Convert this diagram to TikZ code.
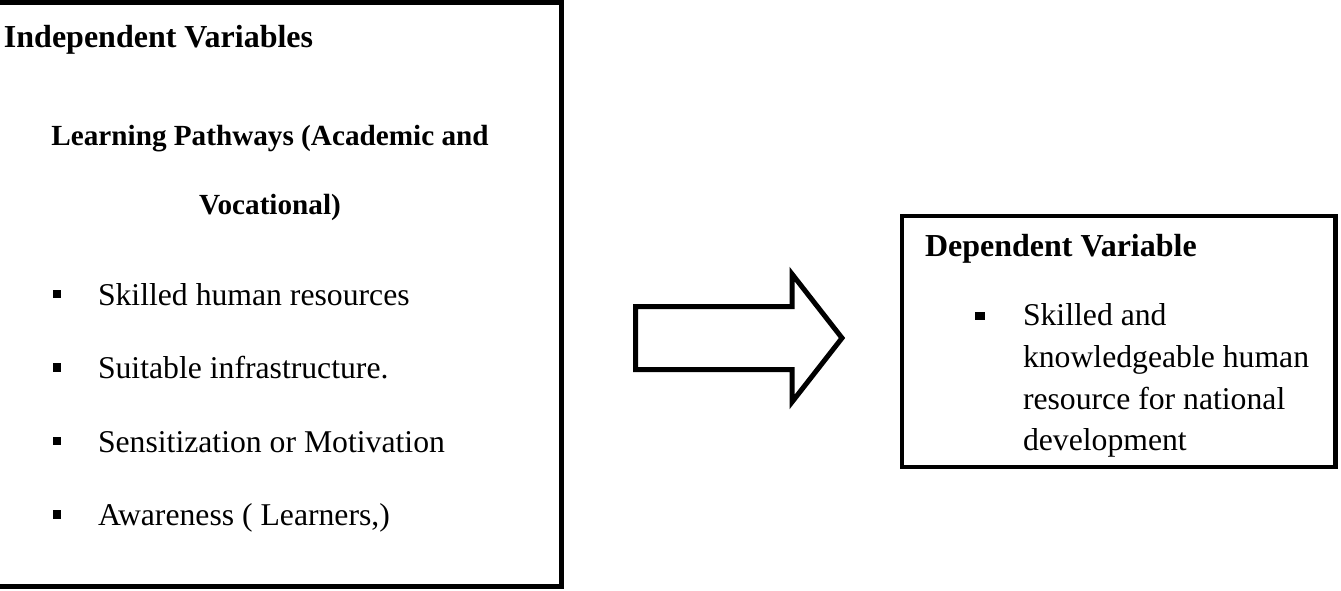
\documentclass[tikz,border=0pt]{standalone}
\usepackage{fontspec}
\setmainfont{Liberation Serif}
\begin{document}
\begin{tikzpicture}[x=1pt,y=-1pt,
  txt/.style={inner sep=0pt, outer sep=0pt, anchor=base west, font=\fontsize{31.7}{36}\selectfont},
  hd/.style={txt, font=\fontsize{32}{36}\selectfont\bfseries},
  hdc/.style={txt, anchor=base, font=\fontsize{29.2}{34}\selectfont\bfseries},
  sq/.style={fill=black, inner sep=0pt, outer sep=0pt, minimum size=8.5pt},
  box/.style={draw, inner sep=0pt, outer sep=0pt, line join=miter}]
\useasboundingbox (0,0) rectangle (1341,590);
\fill[white] (0,0) rectangle (1341,590);
% left box (its left side lies outside the picture)
\node[box, line width=5pt, minimum width=600pt, minimum height=583.5pt, anchor=north east] (indep) at (561,2.5) {};
\node[hd] (indeptitle) at (4,47) {Independent Variables};
\node[hdc] (path1) at (270,145) {Learning Pathways (Academic and};
\node[hdc] (path2) at (270,214) {Vocational)};
\node[sq] (b1) at (57,294) {};
\node[txt] (t1) at (98,305) {Skilled human resources};
\node[sq] (b2) at (57,367.5) {};
\node[txt] (t2) at (98,378.5) {Suitable infrastructure.};
\node[sq] (b3) at (57,441) {};
\node[txt] (t3) at (98,452) {Sensitization or Motivation};
\node[sq] (b4) at (57,514.5) {};
\node[txt] (t4) at (98,525.5) {Awareness ( Learners,)};
% right box
\node[box, line width=4.5pt, minimum width=433.5pt, minimum height=251pt, anchor=north west] (dep) at (902,216) {};
\node[hd] (deptitle) at (925,256) {Dependent Variable};
\node[sq, minimum width=9.5pt, minimum height=8.5pt] (rb) at (980,316) {};
\node[txt] (r1) at (1023,325) {Skilled and};
\node[txt] (r2) at (1023,367) {knowledgeable human};
\node[txt] (r3) at (1023,409) {resource for national};
\node[txt] (r4) at (1023,450) {development};
% block arrow
\draw[line width=5pt, line join=miter] (635.5,306.5) -- (792,306.5) -- (792,274) -- (842,338) -- (792,402) -- (792,369.5) -- (635.5,369.5) -- cycle;
\end{tikzpicture}
\end{document}
